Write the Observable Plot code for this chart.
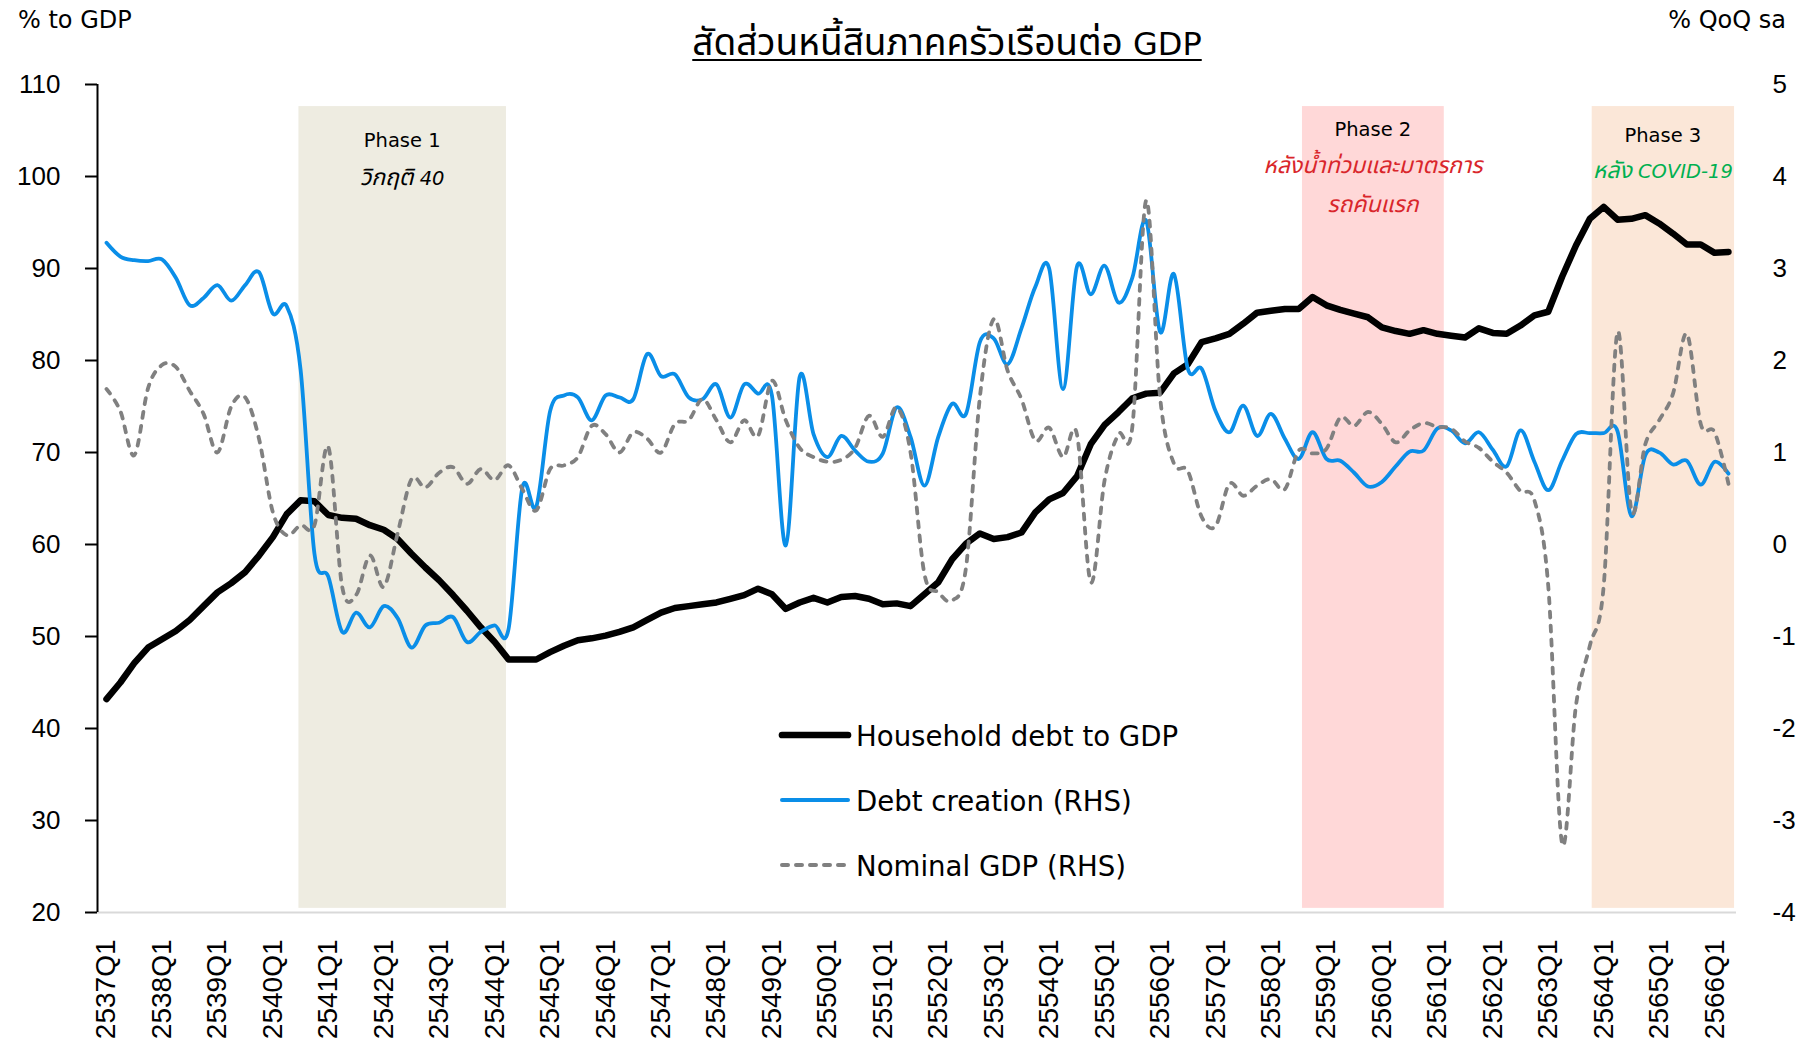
<!DOCTYPE html>
<html><head><meta charset="utf-8">
<script src="https://cdn.jsdelivr.net/npm/d3@7"></script>
<script src="https://cdn.jsdelivr.net/npm/@observablehq/plot@0.6"></script>
<style>
html,body{margin:0;padding:0;background:#fff;}
#wrap{position:relative;width:1803px;height:1040px;overflow:hidden;background:#fff;}
#wrap > svg{position:absolute;left:0;top:0;}
</style></head>
<body><div id="wrap"></div>
<script>
const FONT = '"DejaVu Sans","Noto Sans Thai","Noto Sans",sans-serif';
const TICKFONT = '"Liberation Sans","DejaVu Sans",sans-serif';

// ---- data ----
const years = d3.range(2537, 2567);
const quarterLabels = years.flatMap(y => [1, 2, 3, 4].map(q => `${y}Q${q}`)).slice(0, 118);

// Household debt to GDP (% , left axis)
const householdDebt = [
  43.2, 45.0, 47.1, 48.8, 49.7, 50.6, 51.8, 53.3, 54.8, 55.8,
  57.0, 58.8, 60.8, 63.3, 64.8, 64.7, 63.2, 62.9, 62.8, 62.1,
  61.6, 60.6, 59.0, 57.5, 56.1, 54.5, 52.8, 51.0, 49.4, 47.5,
  47.5, 47.5, 48.3, 49.0, 49.6, 49.8, 50.1, 50.5, 51.0, 51.8,
  52.6, 53.1, 53.3, 53.5, 53.7, 54.1, 54.5, 55.2, 54.6, 53.0,
  53.7, 54.2, 53.7, 54.3, 54.4, 54.1, 53.5, 53.6, 53.3, 54.6,
  55.9, 58.4, 60.1, 61.2, 60.6, 60.8, 61.3, 63.5, 64.9, 65.6,
  67.4, 70.9, 73.0, 74.4, 75.9, 76.4, 76.5, 78.6, 79.6, 82.0,
  82.4, 82.9, 84.0, 85.2, 85.4, 85.6, 85.6, 86.9, 86.0, 85.5,
  85.1, 84.7, 83.6, 83.2, 82.9, 83.3, 82.9, 82.7, 82.5, 83.5,
  83.0, 82.9, 83.8, 84.9, 85.3, 89.1, 92.5, 95.4, 96.7, 95.3,
  95.4, 95.8, 94.9, 93.8, 92.6, 92.6, 91.7, 91.8
];

// Debt creation (% QoQ sa, right axis)
const debtCreation = [
  3.28, 3.13, 3.09, 3.08, 3.10, 2.90, 2.60, 2.68, 2.82, 2.65,
  2.82, 2.96, 2.51, 2.59, 1.90, -0.10, -0.35, -0.95, -0.74, -0.90,
  -0.67, -0.80, -1.12, -0.88, -0.85, -0.79, -1.06, -0.95, -0.88, -0.92,
  0.62, 0.41, 1.45, 1.62, 1.60, 1.35, 1.62, 1.60, 1.58, 2.07,
  1.83, 1.85, 1.60, 1.58, 1.74, 1.38, 1.74, 1.64, 1.62, -0.01,
  1.82, 1.20, 0.95, 1.18, 1.02, 0.90, 0.99, 1.49, 1.17, 0.64,
  1.17, 1.53, 1.42, 2.20, 2.24, 1.96, 2.35, 2.80, 3.00, 1.69,
  3.02, 2.72, 3.03, 2.63, 2.90, 3.52, 2.31, 2.94, 1.91, 1.91,
  1.45, 1.22, 1.51, 1.18, 1.42, 1.15, 0.93, 1.22, 0.93, 0.91,
  0.78, 0.63, 0.68, 0.85, 1.01, 1.02, 1.26, 1.24, 1.10, 1.22,
  1.03, 0.85, 1.24, 0.90, 0.59, 0.91, 1.20, 1.21, 1.21, 1.23,
  0.31, 0.97, 1.00, 0.87, 0.91, 0.65, 0.90, 0.77
];

// Nominal GDP (% QoQ sa, right axis)
const nominalGDP = [
  1.69, 1.45, 0.97, 1.70, 1.95, 1.93, 1.67, 1.42, 1.00, 1.50,
  1.60, 1.15, 0.35, 0.10, 0.21, 0.21, 1.06, -0.46, -0.55, -0.12,
  -0.46, 0.12, 0.71, 0.62, 0.78, 0.84, 0.66, 0.82, 0.70, 0.86,
  0.60, 0.37, 0.82, 0.86, 0.95, 1.29, 1.20, 1.00, 1.22, 1.15,
  1.00, 1.31, 1.35, 1.58, 1.35, 1.11, 1.35, 1.18, 1.78, 1.35,
  1.05, 0.95, 0.90, 0.92, 1.05, 1.40, 1.17, 1.49, 1.00, -0.32,
  -0.52, -0.61, -0.25, 1.60, 2.45, 1.89, 1.58, 1.13, 1.27, 0.95,
  1.20, -0.41, 0.70, 1.20, 1.28, 3.74, 1.60, 0.88, 0.80, 0.30,
  0.20, 0.66, 0.53, 0.64, 0.71, 0.60, 1.02, 0.99, 1.04, 1.38,
  1.29, 1.44, 1.31, 1.11, 1.24, 1.32, 1.28, 1.26, 1.12, 1.05,
  0.90, 0.78, 0.58, 0.48, -0.45, -3.25, -1.75, -1.10, -0.45, 2.31,
  0.37, 1.09, 1.35, 1.64, 2.29, 1.31, 1.22, 0.66
];

const leftTicks = [20, 30, 40, 50, 60, 70, 80, 90, 100, 110];
const rightTicks = [-4, -3, -2, -1, 0, 1, 2, 3, 4, 5];

// shaded phases (quarter positions)
const phaseNames = ["Phase 1", "Phase 2", "Phase 3"];
const phaseStart = [13.88, 86.27, 107.17];
const phaseEnd = [28.85, 96.5, 117.44];
const phaseFill = ["#EEECE1", "#FFD8D8", "#FBE7D8"];
const phaseSub = [["วิกฤติ 40"], ["หลังน้ำท่วมและมาตรการ", "รถคันแรก"], ["หลัง COVID-19"]];
const phaseSubColor = ["#000000", "#D9262B", "#00B050"];

const legendLabels = ["Household debt to GDP", "Debt creation (RHS)", "Nominal GDP (RHS)"];
const title = "สัดส่วนหนี้สินภาคครัวเรือนต่อ GDP";

// ---- build ----
const rightToLeft = v => 20 + (v + 4) * 10;   // map RHS scale onto LHS scale
const leftToRight = v => (v - 20) / 10 - 4;

const rows = quarterLabels.map((q, i) => ({
  i, q, debt: householdDebt[i], creation: debtCreation[i], gdp: nominalGDP[i]
}));
const phases = phaseNames.map((name, k) => ({name, start: phaseStart[k], end: phaseEnd[k], fill: phaseFill[k]}));

const xDomain = [-0.65, 117.58];
const BLUE = "#0A8EE8";
const GREY = "#808080";

const chart = Plot.plot({
  width: 1803, height: 1040,
  marginLeft: 97, marginRight: 67, marginTop: 84, marginBottom: 128,
  x: {type: "linear", domain: xDomain},
  y: {domain: [20, 110]},
  color: {type: "identity"},
  style: {fontFamily: FONT, fontSize: "24px", color: "#000", background: "transparent", overflow: "visible"},
  marks: [
    Plot.rect(phases, {x1: "start", x2: "end", y1: 20.45, y2: 107.6, fill: "fill"}),
    Plot.ruleY([20], {stroke: "#D9D9D9", strokeWidth: 2}),
    Plot.line(rows, {x: "i", y: "debt", stroke: "#000", strokeWidth: 6.5, strokeLinejoin: "round", strokeLinecap: "round"}),
    Plot.line(rows, {x: "i", y: d => rightToLeft(d.creation), stroke: BLUE, strokeWidth: 3.8,
      curve: "cardinal", tension: 0, strokeLinecap: "round", strokeLinejoin: "round"}),
    Plot.line(rows, {x: "i", y: d => rightToLeft(d.gdp), stroke: GREY, strokeWidth: 3.8,
      strokeDasharray: "6,8", strokeLinecap: "round", curve: "cardinal", tension: 0}),
    Plot.ruleX([xDomain[0]], {y1: 20, y2: 110, stroke: "#000", strokeWidth: 2}),
    Plot.axisY({anchor: "left", ticks: leftTicks, tickSize: 12, tickPadding: 25, fontSize: 26, fontFamily: TICKFONT, strokeWidth: 2, label: null}),
    Plot.axisY({anchor: "right", ticks: rightTicks.map(rightToLeft), tickFormat: v => String(Math.round(leftToRight(v))),
      tickSize: 0, tickPadding: 36, fontSize: 26, fontFamily: TICKFONT, label: null}),
    Plot.axisX({ticks: d3.range(0, quarterLabels.length, 4), tickFormat: i => quarterLabels[i], tickRotate: -90,
      tickSize: 0, tickPadding: 27, fontSize: 28, fontFamily: TICKFONT, label: null})
  ]
});
document.getElementById("wrap").appendChild(chart);

// ---- overlay: titles, phase labels, legend ----
const ov = d3.select("#wrap").append("svg")
  .attr("width", 1803).attr("height", 1040)
  .style("font-family", FONT).style("pointer-events", "none");

// Thai runs get a larger size so their width matches the original's Thai face
function richText(sel, str, latinSize, thaiSize) {
  const parts = str.match(/[\u0E00-\u0E7F]+|[^\u0E00-\u0E7F]+/g) || [];
  parts.forEach(p => sel.append("tspan")
    .attr("font-size", /[\u0E00-\u0E7F]/.test(p) ? thaiSize : latinSize)
    .text(p));
  return sel;
}

ov.append("text").attr("x", 18).attr("y", 28).attr("font-size", 24).attr("fill", "#000").text("% to GDP");
ov.append("text").attr("x", 1786).attr("y", 28).attr("font-size", 24).attr("text-anchor", "end").attr("fill", "#000").text("% QoQ sa");

const t = ov.append("text").attr("x", 947).attr("y", 55).attr("text-anchor", "middle").attr("fill", "#000")
  .attr("xml:space", "preserve");
richText(t, title, 32, 37);
const tb = t.node().getBBox();
ov.append("line").attr("x1", tb.x).attr("x2", tb.x + tb.width).attr("y1", 60).attr("y2", 60).attr("stroke", "#000").attr("stroke-width", 2);

const xs = d3.scaleLinear().domain(xDomain).range([97, 1736]);
const phaseTitleY = [147, 136, 142];
const phaseSubY = [[185], [173, 212], [178]];
phases.forEach((p, k) => {
  const cx = xs((p.start + p.end) / 2);
  ov.append("text").attr("x", cx).attr("y", phaseTitleY[k]).attr("font-size", 19.5).attr("text-anchor", "middle").attr("fill", "#000").text(p.name);
  phaseSub[k].forEach((s, j) => {
    const st = ov.append("text").attr("x", cx).attr("y", phaseSubY[k][j]).attr("font-style", "italic")
      .attr("text-anchor", "middle").attr("fill", phaseSubColor[k]).attr("xml:space", "preserve");
    richText(st, s, 19.5, 23);
  });
});

const legY = [735, 800, 865];
const legStyle = [
  {stroke: "#000", w: 6.7, dash: null},
  {stroke: BLUE, w: 4, dash: null},
  {stroke: GREY, w: 4, dash: "6,8"}
];
legendLabels.forEach((lab, k) => {
  const st = legStyle[k];
  const ln = ov.append("line").attr("x1", 782).attr("x2", 848).attr("y1", legY[k]).attr("y2", legY[k])
    .attr("stroke", st.stroke).attr("stroke-width", st.w).attr("stroke-linecap", "round");
  if (st.dash) ln.attr("stroke-dasharray", st.dash);
  ov.append("text").attr("x", 856).attr("y", legY[k] + 10.5).attr("font-size", 27.6).attr("fill", "#000").text(lab);
});
</script>
</body></html>
